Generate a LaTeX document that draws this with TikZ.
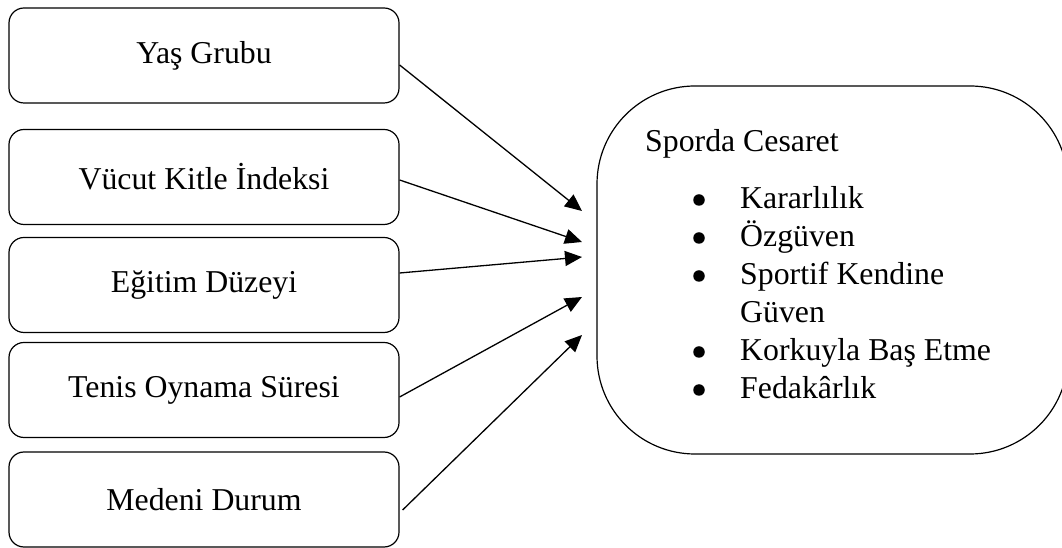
\documentclass[tikz,border=0pt]{standalone}
\usepackage{fontspec}
\setmainfont{Liberation Serif}
\usetikzlibrary{arrows.meta,positioning}
\begin{document}
\begin{tikzpicture}[x=1pt,y=1pt,
  leftbox/.style={draw=black,line width=1.2pt,rounded corners=15pt,minimum width=390pt,minimum height=95pt,inner sep=0pt,font=\fontsize{31.8}{38}\selectfont},
  bigbox/.style={draw=black,line width=1.2pt,rounded corners=98pt,minimum width=471pt,minimum height=368pt,inner sep=0pt},
  txt/.style={anchor=base west,inner sep=0pt,font=\fontsize{31.8}{38}\selectfont},
  bul/.style={circle,fill=black,inner sep=0pt,minimum size=11.5pt},
  conn/.style={line width=1.3pt,-{Triangle[length=17pt,width=15pt]}}]
\useasboundingbox (0,0) rectangle (1062,548);
\clip (0,0) rectangle (1062,548);
% left boxes
\node[leftbox] (b1) at (204,492.5) {Yaş Grubu};
\node[leftbox] (b2) at (204,371) {Vücut Kitle İndeksi};
\node[leftbox] (b3) at (204,263) {Eğitim Düzeyi};
\node[leftbox] (b4) at (204,158) {Tenis Oynama Süresi};
\node[leftbox] (b5) at (204,48.5) {Medeni Durum};
% right box
\node[bigbox] (big) at (832.5,278) {};
\node[txt] (t0) at (645,396) {Sporda Cesaret};
\node[bul] (p1) at (699,348) {};
\node[txt] (t1) at (740,339) {Kararlılık};
\node[bul] (p2) at (699,310) {};
\node[txt] (t2) at (740,301) {Özgüven};
\node[bul] (p3) at (699,272) {};
\node[txt] (t3) at (740,263) {Sportif Kendine};
\node[txt] (t3b) at (740,225) {Güven};
\node[bul] (p4) at (699,196) {};
\node[txt] (t4) at (740,187) {Korkuyla Baş Etme};
\node[bul] (p5) at (699,158) {};
\node[txt] (t5) at (740,149) {Fedakârlık};
% arrow tips
\coordinate (e1) at (582,337);
\coordinate (e2) at (582,306);
\coordinate (e3) at (582,291);
\coordinate (e4) at (582,251);
\coordinate (e5) at (582,213);
\draw[conn] ([yshift=-9.5pt]b1.east) -- (e1);
\draw[conn] ([yshift=-3pt]b2.east) -- (e2);
\draw[conn] ([yshift=12pt]b3.east) -- (e3);
\draw[conn] ([yshift=-7pt]b4.east) -- (e4);
\draw[conn] ([xshift=3pt,yshift=-10.5pt]b5.east) -- (e5);
\end{tikzpicture}
\end{document}
